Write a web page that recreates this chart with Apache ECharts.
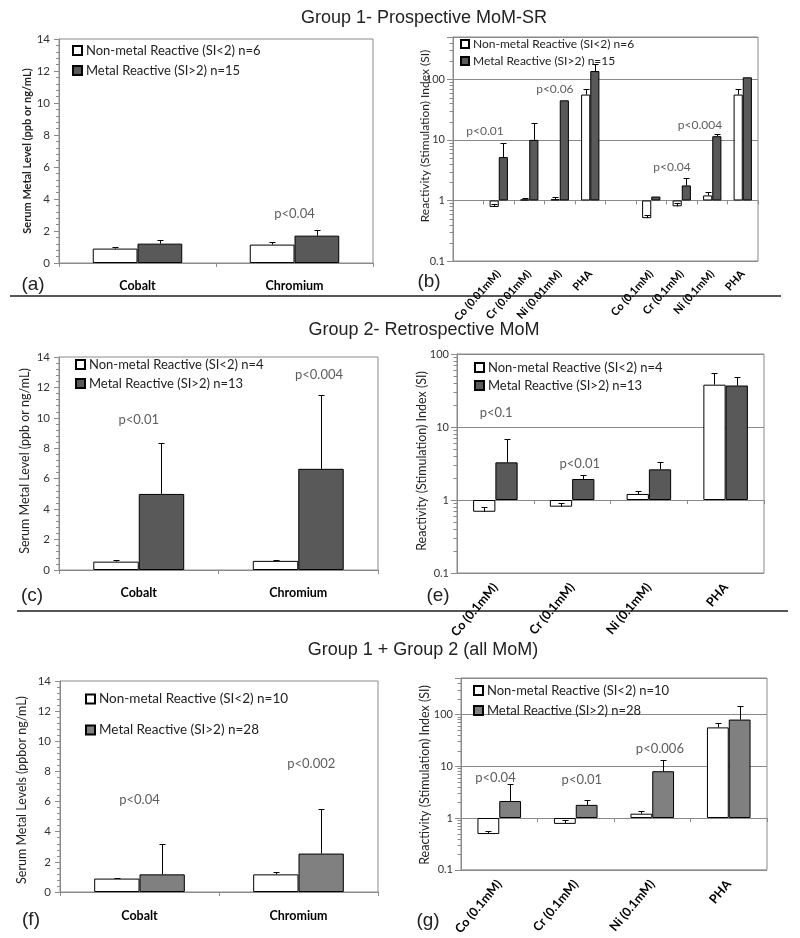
<!DOCTYPE html>
<html><head><meta charset="utf-8">
<script src="https://cdn.jsdelivr.net/npm/echarts@6/dist/echarts.min.js"></script>
<style>html,body{margin:0;padding:0;background:#fff}#c{width:800px;height:938px}</style>
</head><body><div id="c"></div><script>
// ---------------- data ----------------
const serumCategories = ['Cobalt', 'Chromium'];
const g1Names = ['Non-metal Reactive (SI<2) n=6', 'Metal Reactive (SI>2) n=15'];
const g2Names = ['Non-metal Reactive (SI<2) n=4', 'Metal Reactive (SI>2) n=13'];
const g3Names = ['Non-metal Reactive (SI<2) n=10', 'Metal Reactive (SI>2) n=28'];

// (a) Group 1 serum
const aNon = [0.9, 1.15], aNonErr = [0.1, 0.19];
const aMetal = [1.21, 1.71], aMetalErr = [0.25, 0.38];
const aPText = ['p<0.04'], aPCat = [1.0], aPVal = [3.1];

// (b) Group 1 reactivity
const bCategories = ['', 'Co (0.01mM)', 'Cr (0.01mM)', 'Ni (0.01mM)', 'PHA', '', 'Co (0.1mM)', 'Cr (0.1mM)', 'Ni (0.1mM)', 'PHA'];
const bNon = [null, 0.78, 1.04, 1.05, 56, null, 0.51, 0.8, 1.21, 56];
const bNonErr = [null, 0.08, 0.06, 0.11, 12, null, 0.07, 0.12, 0.15, 12];
const bMetal = [null, 5.2, 10.0, 45, 137, null, 1.16, 1.77, 11.5, 108];
const bMetalErr = [null, 3.7, 8.7, 0, 40, null, 0, 0.58, 0.9, 0];
const bPText = ['p<0.01', 'p<0.06', 'p<0.04', 'p<0.004'], bPCat = [0.55, 2.84, 6.68, 7.6], bPVal = [14.2, 70, 3.57, 17.8];

// (c) Group 2 serum
const cNon = [0.55, 0.6], cNonErr = [0.08, 0.08];
const cMetal = [5.0, 6.65], cMetalErr = [3.35, 4.85];
const cPText = ['p<0.01', 'p<0.004'], cPCat = [0, 1.13], cPVal = [9.9, 12.8];

// (e) Group 2 reactivity
const reactCategories = ['Co (0.1mM)', 'Cr (0.1mM)', 'Ni (0.1mM)', 'PHA'];
const eNon = [0.69, 0.81, 1.21, 38], eNonErr = [0.1, 0.09, 0.13, 17.5];
const eMetal = [3.28, 1.94, 2.63, 37], eMetalErr = [3.5, 0.26, 0.72, 11];
const ePText = ['p<0.1', 'p<0.01'], ePCat = [0.01, 1.1], ePVal = [15.4, 3.18];

// (f) all MoM serum
const fNon = [0.89, 1.17], fNonErr = [0.06, 0.13];
const fMetal = [1.17, 2.55], fMetalErr = [2.02, 2.94];
const fPText = ['p<0.04', 'p<0.002'], fPCat = [0, 1.08], fPVal = [6.09, 8.53];

// (g) all MoM reactivity
const gNon = [0.49, 0.77, 1.21, 55.8], gNonErr = [0.08, 0.14, 0.17, 12];
const gMetal = [2.12, 1.79, 7.97, 79], gMetalErr = [2.33, 0.48, 4.9, 63];
const gPText = ['p<0.04', 'p<0.01', 'p<0.006'], gPCat = [-0.05, 1.08, 2.1], gPVal = [6.0, 5.55, 21.1];

const serumTicks = [0, 14, 2];            // min, max, interval
const logTickLabels = ['0.1', '1', '10', '100'];
const logMinorTickValues = [0.2,0.3,0.4,0.5,0.6,0.7,0.8,0.9, 2,3,4,5,6,7,8,9, 20,30,40,50,60,70,80,90, 200,300,400];

// ---------------- layout / style ----------------
const FONT = 'Lato, "Open Sans", sans-serif';
const panels = [
  { grid:{left:59,top:39,width:314,height:224}, cats:serumCategories, log:false,
    non:aNon, nonErr:aNonErr, metal:aMetal, metalErr:aMetalErr, names:g1Names, dark:'#595959', gap:'43%',
    pText:aPText, pCat:aPCat, pVal:aPVal, pFont:13,
    legend:{left:72, top:44, gap:7, font:13, icon:9},
    catFont:12.5, catMargin:16, rotate:0 },
  { grid:{left:453,top:37,width:305,height:224}, cats:bCategories, log:true, logMax:500,
    non:bNon, nonErr:bNonErr, metal:bMetal, metalErr:bMetalErr, names:g1Names, dark:'#595959', gap:'40%',
    pText:bPText, pCat:bPCat, pVal:bPVal, pFont:12,
    legend:{left:460, top:38, gap:5, font:12, icon:8},
    catFont:11, catMargin:11, rotate:48 },
  { grid:{left:59,top:357,width:319,height:213}, cats:serumCategories, log:false,
    non:cNon, nonErr:cNonErr, metal:cMetal, metalErr:cMetalErr, names:g2Names, dark:'#595959', gap:'43%',
    pText:cPText, pCat:cPCat, pVal:cPVal, pFont:13,
    legend:{left:75, top:358, gap:6, font:13, icon:9},
    catFont:12.5, catMargin:16, rotate:0 },
  { grid:{left:457,top:354,width:307,height:219}, cats:reactCategories, log:true, logMax:100,
    non:eNon, nonErr:eNonErr, metal:eMetal, metalErr:eMetalErr, names:g2Names, dark:'#595959', gap:'42%',
    pText:ePText, pCat:ePCat, pVal:ePVal, pFont:13,
    legend:{left:474, top:361, gap:5, font:13, icon:9},
    catFont:12.5, catMargin:12, rotate:50 },
  { grid:{left:60,top:681,width:318,height:211}, cats:serumCategories, log:false,
    non:fNon, nonErr:fNonErr, metal:fMetal, metalErr:fMetalErr, names:g3Names, dark:'#808080', gap:'43%',
    pText:fPText, pCat:fPCat, pVal:fPVal, pFont:13,
    legend:{left:85, top:692, gap:17, font:13.5, icon:9},
    catFont:12.5, catMargin:17, rotate:0 },
  { grid:{left:461,top:678,width:306,height:220}, cats:reactCategories, log:true, logMax:500,
    non:gNon, nonErr:gNonErr, metal:gMetal, metalErr:gMetalErr, names:g3Names, dark:'#808080', gap:'43%',
    pText:gPText, pCat:gPCat, pVal:gPVal, pFont:13,
    legend:{left:473, top:684, gap:7, font:13, icon:9},
    catFont:12.5, catMargin:12, rotate:50 }
];

const AXIS_GRAY = '#8a8a8a';
function errRenderer(gapStr, side) {
  const gap = parseFloat(gapStr) / 100;
  return function (params, api) {
    const i = api.value(0), v = api.value(1), u = api.value(2);
    const band = api.size([1, 0])[0];
    const bw = band * (1 - gap) / 2;
    const c = api.coord([i, v]);
    const t = api.coord([i, u]);
    const x = Math.round(c[0] + side * bw / 2) + 0.5;
    const ty = Math.round(t[1]) + 0.5;
    return { type: 'group', children: [
      { type: 'line', shape: { x1: x, y1: c[1], x2: x, y2: ty }, style: { stroke: '#000', lineWidth: 1 } },
      { type: 'line', shape: { x1: x - 3, y1: ty, x2: x + 3, y2: ty }, style: { stroke: '#000', lineWidth: 1 } }
    ]};
  };
}
function minorTickRenderer(params, api) {
  const p = api.coord([api.value(0), api.value(1)]);
  const x = Math.round(p[0]) + 0.5, y = Math.round(p[1]) + 0.5;
  return { type: 'line', shape: { x1: x - 4, y1: y, x2: x, y2: y }, style: { stroke: AXIS_GRAY, lineWidth: 1 } };
}

const grids = [], xAxes = [], yAxes = [], series = [], legends = [];
panels.forEach((p, i) => {
  const tr = p.log ? (v => Math.log10(v)) : (v => v);
  grids.push(Object.assign({ show: true, borderColor: AXIS_GRAY, borderWidth: 1, containLabel: false }, p.grid));
  xAxes.push({
    type: 'category', gridIndex: i, data: p.cats,
    axisLine: { show: true, onZero: true, lineStyle: { color: AXIS_GRAY } },
    axisTick: { show: true, length: 4, lineStyle: { color: AXIS_GRAY } },
    axisLabel: { interval: 0, rotate: p.rotate, margin: p.catMargin, fontFamily: FONT, fontWeight: 'bold',
                 fontSize: p.catFont, color: '#000' },
    splitLine: { show: false }
  });
  xAxes.push({ type: 'value', gridIndex: i, min: -0.5, max: p.cats.length - 0.5, show: false,
               axisLine: { onZero: false } });
  if (p.log) {
    yAxes.push({
      type: 'value', gridIndex: i, min: -1, max: Math.log10(p.logMax), interval: 1,
      axisLine: { show: true, onZero: false, lineStyle: { color: AXIS_GRAY } },
      axisTick: { show: true, length: 6, lineStyle: { color: AXIS_GRAY } },
      axisLabel: { fontFamily: FONT, fontSize: 11, color: '#333', margin: 8,
        formatter: v => { const k = Math.round(v); return Math.abs(v - k) < 1e-6 && k >= -1 && k <= 2 ? logTickLabels[k + 1] : ''; } },
      splitLine: { show: true, lineStyle: { color: AXIS_GRAY, width: 1 } }
    });
  } else {
    yAxes.push({
      type: 'value', gridIndex: i, min: serumTicks[0], max: serumTicks[1], interval: serumTicks[2],
      axisLine: { show: true, onZero: false, lineStyle: { color: AXIS_GRAY } },
      axisTick: { show: true, length: 5, lineStyle: { color: AXIS_GRAY } },
      minorTick: { show: true, splitNumber: 5, length: 3, lineStyle: { color: AXIS_GRAY } },
      axisLabel: { fontFamily: FONT, fontSize: 11.5, color: '#333', margin: 9 },
      splitLine: { show: false }
    });
  }
  const xc = 2 * i, xv = 2 * i + 1;
  series.push({ type: 'bar', name: p.names[0], xAxisIndex: xc, yAxisIndex: i,
    data: p.non.map(v => v == null ? null : tr(v)), barGap: '0%', barCategoryGap: p.gap,
    itemStyle: { color: '#ffffff', borderColor: '#000', borderWidth: 1 }, silent: true, animation: false });
  series.push({ type: 'bar', name: p.names[1], xAxisIndex: xc, yAxisIndex: i,
    data: p.metal.map(v => v == null ? null : tr(v)), barGap: '0%', barCategoryGap: p.gap,
    itemStyle: { color: p.dark, borderColor: '#000', borderWidth: 1 }, silent: true, animation: false });
  [[p.non, p.nonErr, -1], [p.metal, p.metalErr, 1]].forEach(([vals, errs, side]) => {
    const d = [];
    vals.forEach((v, k) => { if (v != null && errs[k]) d.push([k, tr(v), tr(v + errs[k])]); });
    series.push({ type: 'custom', xAxisIndex: xc, yAxisIndex: i, data: d, z: 5, silent: true, animation: false,
      renderItem: errRenderer(p.gap, side), encode: { x: 0, y: [1, 2] } });
  });
  series.push({ type: 'scatter', xAxisIndex: xv, yAxisIndex: i, symbolSize: 0, silent: true, animation: false, z: 6,
    data: p.pText.map((t, k) => ({ name: t, value: [p.pCat[k], tr(p.pVal[k])] })),
    label: { show: true, position: 'inside', formatter: '{b}', fontFamily: FONT, fontSize: p.pFont, color: '#333' } });
  if (p.log) {
    series.push({ type: 'custom', xAxisIndex: xv, yAxisIndex: i, silent: true, animation: false, z: 4,
      data: logMinorTickValues.filter(v => v < p.logMax).map(v => [-0.5, Math.log10(v)]),
      renderItem: minorTickRenderer, encode: { x: 0, y: 1 } });
  }
  legends.push({ data: p.names, orient: 'vertical', left: p.legend.left, top: p.legend.top,
    itemGap: p.legend.gap, itemWidth: p.legend.icon, itemHeight: p.legend.icon, icon: 'rect',
    selectedMode: false, padding: 0,
    textStyle: { fontFamily: FONT, fontSize: p.legend.font, color: '#222', padding: [0, 0, 0, -1] } });
});

// texts and separators
const TITLE_FONT = '"Liberation Sans", Arial, sans-serif';
function txt(x, y, text, font, extra) {
  return Object.assign({ type: 'text', x: x, y: y, silent: true,
    style: { text: text, font: font, fill: '#222', align: 'center', verticalAlign: 'middle',
             textAlign: 'center', textVerticalAlign: 'middle' } }, extra || {});
}
const graphics = [
  txt(424, 18, 'Group 1- Prospective MoM-SR', '18px ' + TITLE_FONT),
  txt(424, 330, 'Group 2- Retrospective MoM', '18px ' + TITLE_FONT),
  txt(423, 650, 'Group 1 + Group 2 (all MoM)', '18px ' + TITLE_FONT),
  txt(33, 285, '(a)', '19px ' + TITLE_FONT),
  txt(429, 282, '(b)', '19px ' + TITLE_FONT),
  txt(32, 596, '(c)', '19px ' + TITLE_FONT),
  txt(438, 596, '(e)', '19px ' + TITLE_FONT),
  txt(31, 920, '(f)', '19px ' + TITLE_FONT),
  txt(428, 921, '(g)', '19px ' + TITLE_FONT),
  txt(27, 151, 'Serum Metal Level (ppb or ng/mL)', 'bold 11px ' + FONT, { rotation: Math.PI / 2 }),
  txt(425, 136, 'Reactivity (Stimulation) Index (SI)', '12px ' + FONT, { rotation: Math.PI / 2 }),
  txt(25, 461, 'Serum Metal Level (ppb or ng/mL)', '12.5px ' + FONT, { rotation: Math.PI / 2 }),
  txt(422, 461, 'Reactivity (Stimulation) Index (SI)', '12.5px ' + FONT, { rotation: Math.PI / 2 }),
  txt(22, 790, 'Serum Metal Levels (ppbor ng/mL)', '12.5px ' + FONT, { rotation: Math.PI / 2 }),
  txt(425, 775, 'Reactivity (Stimulation) Index (SI)', '12.5px ' + FONT, { rotation: Math.PI / 2 }),
  { type: 'line', silent: true, shape: { x1: 10, y1: 296, x2: 781, y2: 296 }, style: { stroke: '#555', lineWidth: 2 } },
  { type: 'line', silent: true, shape: { x1: 17, y1: 611, x2: 788, y2: 611 }, style: { stroke: '#555', lineWidth: 2 } }
];

const chart = echarts.init(document.getElementById('c'), null, { renderer: 'canvas' });
chart.setOption({
  backgroundColor: '#fff', animation: false,
  grid: grids, xAxis: xAxes, yAxis: yAxes, series: series, legend: legends, graphic: graphics
});
</script></body></html>
